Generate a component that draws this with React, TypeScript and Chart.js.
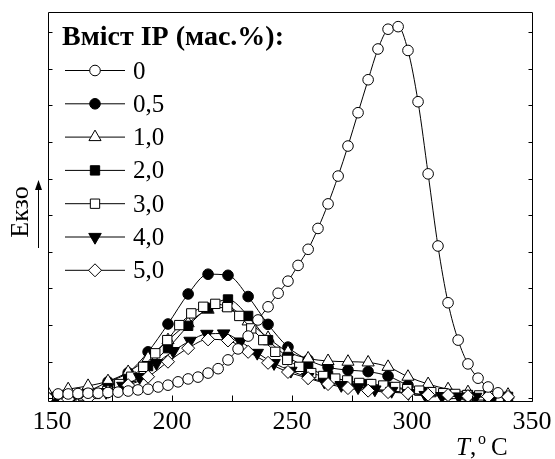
import React, { useEffect, useRef } from "react";
import { Chart, registerables } from "chart.js";

Chart.register(...registerables);

// ---------- text ----------
const legendTitle = "Вміст ІР (мас.%):";
const seriesLabels = ["0", "0,5", "1,0", "2,0", "3,0", "4,0", "5,0"];
const yTitle = "Екзо";
const xTitleMain = "T";
const xTitleUnitSup = "o";
const xTitleUnit = "C";

// ---------- axis ticks ----------
const xTickValues = [150, 200, 250, 300, 350];
const xMinorTickValues = [175, 225, 275, 325];
const yTickValues = [0, 10, 20, 30, 40, 50, 60, 70, 80, 90, 100];

// ---------- data (T in °C, signal in arbitrary units) ----------
const t00 = [152.5, 156.7, 160.8, 165.0, 169.2, 173.3, 177.5, 181.7, 185.8, 190.0, 194.2, 198.3, 202.5, 206.7, 210.8, 215.0, 219.2, 223.3, 227.5, 231.7, 235.8, 240.0, 244.2, 248.3, 252.5, 256.7, 260.8, 265.0, 269.2, 273.3, 277.5, 281.7, 285.8, 290.0, 294.2, 298.3, 302.5, 306.7, 310.8, 315.0, 319.2, 323.3, 327.5, 331.7, 335.8];
const v00 = [1.2, 1.2, 1.3, 1.4, 1.4, 1.6, 1.7, 2.0, 2.3, 2.5, 3.1, 3.6, 4.5, 5.3, 5.8, 6.9, 8.1, 10.5, 13.5, 17.0, 21.4, 25.0, 28.7, 32.0, 36.3, 40.7, 46.4, 53.1, 60.7, 68.9, 78.0, 87.0, 95.4, 100.8, 101.5, 95.0, 81.0, 61.3, 41.6, 26.1, 15.9, 9.4, 5.5, 3.1, 1.5];

const t05 = [156.7, 165.0, 173.3, 181.7, 190.0, 198.3, 206.7, 215.0, 223.3, 231.7, 240.0, 248.3, 256.7, 265.0, 273.3, 281.7, 290.0, 298.3, 306.7, 315.0, 323.3, 331.7];
const v05 = [0.6, 2.0, 4.5, 7.0, 12.7, 20.3, 28.5, 33.9, 33.6, 27.8, 20.2, 14.0, 10.5, 8.5, 7.7, 7.3, 6.1, 3.6, 2.0, 1.0, 0.6, 0.4];

const t10 = [148.3, 156.7, 165.0, 173.3, 181.7, 190.0, 198.3, 206.7, 215.0, 223.3, 231.7, 240.0, 248.3, 256.7, 265.0, 273.3, 281.7, 290.0, 298.3, 306.7, 315.0, 323.3, 331.7, 340.0];
const v10 = [1.4, 2.5, 3.4, 4.7, 7.2, 11.0, 15.9, 20.5, 24.2, 24.8, 21.0, 16.5, 12.7, 10.9, 10.2, 10.0, 9.8, 8.6, 5.9, 3.9, 2.5, 1.7, 1.4, 1.0];

const t20 = [148.3, 156.7, 165.0, 173.3, 181.7, 190.0, 198.3, 206.7, 215.0, 223.3, 231.7, 240.0, 248.3, 256.7, 265.0, 273.3, 281.7, 290.0, 298.3, 306.7, 315.0, 323.3, 331.7, 340.0];
const v20 = [0.1, 0.4, 1.2, 2.8, 5.3, 8.8, 13.7, 19.8, 24.7, 27.0, 22.5, 15.9, 11.3, 8.3, 6.1, 4.7, 3.9, 3.1, 2.3, 1.7, 1.2, 0.9, 0.6, 0.4];

const t30 = [153, 158, 163, 168, 173, 178, 183, 188, 193, 198, 203, 208, 213, 218, 223, 228, 233, 238, 243, 248, 253, 258, 263, 268, 273, 278, 283, 288, 293, 298, 303, 308, 313, 318, 323, 328, 333];
const v30 = [0.1, 0.4, 0.6, 1.2, 2.0, 3.9, 5.9, 8.6, 12.3, 15.9, 20.0, 23.2, 25.0, 25.8, 24.9, 22.5, 19.1, 15.9, 12.7, 10.5, 8.6, 6.9, 6.1, 5.4, 4.9, 4.2, 3.9, 3.5, 3.1, 2.5, 2.1, 1.7, 1.4, 1.2, 0.9, 0.8, 0.6];

const t40 = [151.5, 158.5, 165.5, 172.5, 179.5, 186.5, 193.5, 200.5, 207.5, 214.5, 221.5, 228.5, 235.5, 242.5, 249.5, 256.5, 263.5, 270.5, 277.5, 284.5, 291.5, 298.5, 305.5, 312.5, 319.5, 326.5, 333.5];
const v40 = [0.0, 0.4, 0.9, 1.7, 3.4, 5.8, 9.6, 12.9, 15.7, 17.6, 17.7, 15.5, 12.4, 9.6, 7.5, 5.8, 4.5, 3.6, 3.0, 2.4, 2.0, 1.4, 0.9, 0.6, 0.5, 0.4, 0.2];

const t50 = [148.3, 156.7, 165.0, 173.3, 181.7, 190.0, 198.3, 206.7, 215.0, 223.3, 231.7, 240.0, 248.3, 256.7, 265.0, 273.3, 281.7, 290.0, 298.3, 306.7, 315.0, 323.3, 331.7, 340.0];
const v50 = [0.1, -0.2, 0.0, 1.8, 3.6, 5.9, 10.0, 13.7, 16.1, 15.8, 12.7, 9.7, 7.2, 5.5, 3.9, 2.8, 2.1, 1.7, 1.4, 1.0, 0.9, 0.6, 0.5, 0.4];

const seriesT = [t00, t05, t10, t20, t30, t40, t50];
const seriesV = [v00, v05, v10, v20, v30, v40, v50];

// ---------- styles ----------
const FONT = "'Liberation Serif', 'Times New Roman', serif";
const markerStyles = [
  { style: "circle", fill: "#ffffff", r: 5.3, rot: 0 },
  { style: "circle", fill: "#000000", r: 5.3, rot: 0 },
  { style: "triangle", fill: "#ffffff", r: 7, rot: 0 },
  { style: "rect", fill: "#000000", r: 6.6, rot: 0 },
  { style: "rect", fill: "#ffffff", r: 6.6, rot: 0 },
  { style: "triangle", fill: "#000000", r: 7.2, rot: 180 },
  { style: "rectRot", fill: "#ffffff", r: 6.5, rot: 0 },
];
// drawing weight: higher = drawn earlier (underneath)
const drawOrder = [0, 6, 5, 4, 3, 2, 1];

function drawMarker(ctx: CanvasRenderingContext2D, m: any, x: number, y: number) {
  ctx.beginPath();
  const r = m.r;
  if (m.style === "circle") {
    ctx.arc(x, y, r, 0, Math.PI * 2);
  } else if (m.style === "rect") {
    const s = r * Math.SQRT1_2;
    ctx.rect(x - s, y - s, 2 * s, 2 * s);
  } else if (m.style === "rectRot") {
    ctx.moveTo(x - r, y);
    ctx.lineTo(x, y - r);
    ctx.lineTo(x + r, y);
    ctx.lineTo(x, y + r);
    ctx.closePath();
  } else if (m.style === "triangle") {
    let a = (m.rot * Math.PI) / 180;
    for (let k = 0; k < 3; k++) {
      const px = x + Math.sin(a) * r;
      const py = y - Math.cos(a) * r;
      if (k === 0) ctx.moveTo(px, py);
      else ctx.lineTo(px, py);
      a += (2 * Math.PI) / 3;
    }
    ctx.closePath();
  }
  ctx.fillStyle = m.fill;
  ctx.fill();
  ctx.stroke();
}

const decorPlugin = {
  id: "decor",
  afterDraw(chart: any) {
    const { ctx, chartArea: a, scales } = chart;
    const xs = scales.x;
    const ys = scales.y;
    ctx.save();
    ctx.strokeStyle = "#000";
    ctx.fillStyle = "#000";
    ctx.lineWidth = 1;

    const L = Math.round(a.left) + 0.5;
    const R = Math.round(a.right) - 0.5;
    const T = Math.round(a.top) + 0.5;
    const B = Math.round(a.bottom) - 0.5;
    ctx.beginPath();
    ctx.rect(L, T, R - L, B - T);
    ctx.stroke();

    // x ticks (inward)
    ctx.beginPath();
    [...xTickValues, ...xMinorTickValues].forEach((v) => {
      const px = Math.round(xs.getPixelForValue(v)) + 0.5;
      ctx.moveTo(px, B);
      ctx.lineTo(px, B - 6);
    });
    // y ticks (inward, left and right)
    yTickValues.forEach((v) => {
      const py = Math.round(ys.getPixelForValue(v)) + 0.5;
      ctx.moveTo(L, py);
      ctx.lineTo(L + 4, py);
      ctx.moveTo(R, py);
      ctx.lineTo(R - 4, py);
    });
    ctx.stroke();

    // legend
    ctx.font = `bold 28px ${FONT}`;
    ctx.textAlign = "left";
    ctx.textBaseline = "alphabetic";
    ctx.fillText(legendTitle, 62, 45);
    ctx.font = `25px ${FONT}`;
    seriesLabels.forEach((lab, i) => {
      const ly = 70 + 33.3 * i;
      ctx.beginPath();
      ctx.moveTo(65, ly + 0.5);
      ctx.lineTo(125, ly + 0.5);
      ctx.stroke();
      drawMarker(ctx, markerStyles[i], 95, ly + 0.5);
      ctx.fillStyle = "#000";
      ctx.fillText(lab, 133, ly + 8.5);
    });

    // y title with arrow
    ctx.save();
    ctx.translate(28, 212);
    ctx.rotate(-Math.PI / 2);
    ctx.font = `26px ${FONT}`;
    ctx.textAlign = "center";
    ctx.fillText(yTitle, 0, 0);
    ctx.restore();
    ctx.beginPath();
    ctx.moveTo(38.5, 248);
    ctx.lineTo(38.5, 188);
    ctx.stroke();
    ctx.beginPath();
    ctx.moveTo(38.5, 180);
    ctx.lineTo(35, 190);
    ctx.lineTo(42, 190);
    ctx.closePath();
    ctx.fill();

    // x title: T, °C
    ctx.textAlign = "left";
    ctx.font = `italic 25px ${FONT}`;
    ctx.fillText(xTitleMain, 456, 455);
    ctx.font = `25px ${FONT}`;
    ctx.fillText(",", 470, 455);
    ctx.font = `16px ${FONT}`;
    ctx.fillText(xTitleUnitSup, 478, 444);
    ctx.font = `25px ${FONT}`;
    ctx.fillText(xTitleUnit, 491, 455);

    ctx.restore();
  },
};

export default function App() {
  const ref = useRef<HTMLCanvasElement | null>(null);

  useEffect(() => {
    if (!ref.current) return;
    const datasets = seriesLabels.map((label, i) => {
      const m = markerStyles[i];
      return {
        label,
        data: seriesT[i].map((t, k) => ({ x: t, y: seriesV[i][k] })),
        order: drawOrder[i],
        borderColor: "#000",
        borderWidth: 1,
        pointStyle: m.style,
        pointRadius: m.r,
        pointRotation: m.rot,
        pointBackgroundColor: m.fill,
        pointBorderColor: "#000",
        pointBorderWidth: 1,
        pointHoverRadius: m.r,
        tension: 0.3,
        cubicInterpolationMode: "monotone",
        fill: false,
      };
    });

    const chart = new Chart(ref.current, {
      type: "line",
      data: { datasets } as any,
      options: {
        responsive: false,
        animation: false,
        devicePixelRatio: 1,
        layout: { padding: { left: 0, right: 22, top: 12, bottom: 0 } },
        plugins: { legend: { display: false }, tooltip: { enabled: false } },
        scales: {
          x: {
            type: "linear",
            min: 148.3,
            max: 350.4,
            afterBuildTicks: (s: any) => {
              s.ticks = xTickValues.map((v) => ({ value: v }));
            },
            afterFit: (s: any) => {
              s.height = 57;
              s.paddingLeft = 0;
              s.paddingRight = 0;
            },
            grid: { display: false, drawTicks: false },
            border: { display: false },
            ticks: {
              color: "#000",
              font: { family: FONT, size: 26 },
              padding: 5,
              maxRotation: 0,
              autoSkip: false,
              callback: (v: any) => String(v),
            },
          },
          y: {
            type: "linear",
            min: -1.0,
            max: 105.5,
            afterFit: (s: any) => {
              s.width = 48;
            },
            grid: { display: false, drawTicks: false },
            border: { display: false },
            ticks: { display: false },
          },
        },
      } as any,
      plugins: [decorPlugin],
    });
    return () => chart.destroy();
  }, []);

  return (
    <div style={{ position: "fixed", left: 0, top: 0, width: 555, height: 459, background: "#fff" }}>
      <canvas ref={ref} width={555} height={459} style={{ display: "block" }} />
    </div>
  );
}
